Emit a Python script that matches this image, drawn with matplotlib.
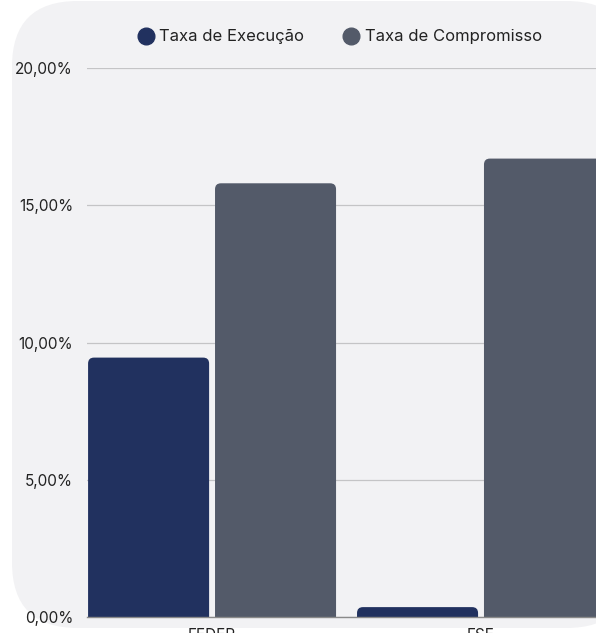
import matplotlib.pyplot as plt
from matplotlib.patches import FancyBboxPatch
from matplotlib.lines import Line2D
from matplotlib.ticker import FuncFormatter

plt.rcParams["font.family"] = ["Inter", "DejaVu Sans"]

categories = ["FEDER", "FSE"]
series_names = ["Taxa de Execução", "Taxa de Compromisso"]
taxa_execucao = [9.45, 0.36]
taxa_compromisso = [15.8, 16.7]
yticks = [0, 5, 10, 15, 20]

colors = ["#21315f", "#535a69"]
panel_color = "#f2f2f4"
text_color = "#222222"

W, H = 596, 633
fig = plt.figure(figsize=(W / 100, H / 100), dpi=100)
fig.patch.set_facecolor("white")

# rounded background panel
panel = FancyBboxPatch((12 / W, 5 / H), 620 / W, 627 / H,
                       boxstyle="round,pad=0,rounding_size=0.11",
                       mutation_aspect=W / H,
                       transform=fig.transFigure, facecolor=panel_color,
                       edgecolor="none", zorder=-10)
fig.patches.append(panel)

ax = fig.add_axes([87 / W, 16 / H, (W - 87) / W, 549 / H])
ax.set_facecolor("none")

width = 0.45
offset = 0.236
radius = 0.022
aspect = 269 / 27.45

for i, (vals, col) in enumerate(zip([taxa_execucao, taxa_compromisso], colors)):
    sign = -1 if i == 0 else 1
    for j, v in enumerate(vals):
        x0 = j + sign * offset - width / 2
        p = FancyBboxPatch((x0, -1), width, v + 1,
                           boxstyle="round,pad=0,rounding_size=%f" % radius,
                           mutation_aspect=aspect,
                           facecolor=col, edgecolor="none", zorder=3)
        ax.add_patch(p)

ax.set_xlim(-0.465, 1 + (W - 481) / 269)
ax.set_ylim(0, 20)
ax.set_xticks(range(len(categories)))
ax.set_xticklabels(categories)
ax.set_yticks(yticks)
ax.yaxis.set_major_formatter(FuncFormatter(lambda v, p: ("%.2f%%" % v).replace(".", ",")))
ax.tick_params(axis="both", length=0, labelsize=11, colors=text_color)
ax.tick_params(axis="y", pad=10)
ax.tick_params(axis="x", pad=8)
ax.yaxis.grid(True, color="#c4c4c6", linewidth=0.9)
ax.set_axisbelow(True)
for s in ["top", "right", "left"]:
    ax.spines[s].set_visible(False)
ax.spines["bottom"].set_color("#8a8a8a")
ax.spines["bottom"].set_linewidth(1.0)
ax.spines["bottom"].set_zorder(4)

handles = [Line2D([], [], marker="o", linestyle="none", markersize=12,
                  markerfacecolor=c, markeredgecolor=c) for c in colors]
fig.legend(handles, series_names, loc="center", bbox_to_anchor=(340 / W, 1 - 37 / H),
           ncol=2, frameon=False, fontsize=12, handlelength=0.9,
           handletextpad=0.35, columnspacing=2.4, labelcolor=text_color)

fig.savefig("out.png", dpi=100)
